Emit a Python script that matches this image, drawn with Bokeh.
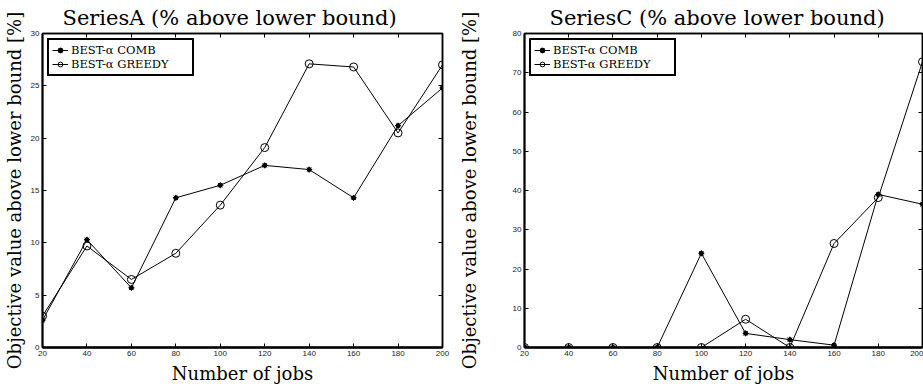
from bokeh.plotting import figure
from bokeh.layouts import row
from bokeh.models import LinearAxis, FixedTicker, Range1d, Legend, LegendItem
from bokeh.embed import file_html
from bokeh.resources import INLINE

jobs = [20, 40, 60, 80, 100, 120, 140, 160, 180, 200]
a_comb = [2.6, 10.3, 5.7, 14.3, 15.5, 17.4, 17.0, 14.3, 21.2, 24.8]
a_greedy = [3.0, 9.7, 6.5, 9.0, 13.6, 19.1, 27.1, 26.8, 20.5, 27.0]
c_comb = [0, 0, 0, 0, 24.0, 3.6, 2.0, 0.6, 39.0, 36.5]
c_greedy = [0, 0, 0, 0, 0, 7.2, 0, 26.5, 38.2, 72.8]
a_yticks = [0, 5, 10, 15, 20, 25, 30]
c_yticks = [0, 10, 20, 30, 40, 50, 60, 70, 80]
label_comb = "BEST-α COMB"
label_greedy = "BEST-α GREEDY"
title_a = "SeriesA (% above lower bound)"
title_c = "SeriesC (% above lower bound)"
xlabel = "Number of jobs"
ylabel = "Objective value above lower bound [%]"

SERIF = "DejaVu Serif"
SANS = "Liberation Sans"


def make(title, comb, greedy, yticks, width, bl, br, ylab_standoff, title_offset):
    p = figure(width=width, height=388,
               x_range=Range1d(20, 200), y_range=Range1d(yticks[0], yticks[-1]),
               output_backend="svg", toolbar_location=None,
               min_border_left=bl, min_border_right=br,
               min_border_top=32, min_border_bottom=41,
               x_axis_label=xlabel, y_axis_label=ylabel)
    p.xgrid.visible = False
    p.ygrid.visible = False
    p.outline_line_color = "black"
    p.outline_line_width = 1.5
    p.outline_line_alpha = 1.0

    p.title.text = title
    p.title.text_font = SERIF
    p.title.text_font_size = "21px"
    p.title.text_font_style = "normal"
    p.title.text_color = "black"
    p.title.align = "left"
    p.title.standoff = 7
    p.title.offset = title_offset

    for ax, ticks, lw in ((p.xaxis[0], jobs, 2.5), (p.yaxis[0], yticks, 2.0)):
        ax.ticker = FixedTicker(ticks=ticks)
        ax.axis_line_width = lw
        ax.axis_line_color = "black"
        ax.major_tick_in = 4
        ax.major_tick_out = 0
        ax.major_tick_line_color = "black"
        ax.minor_tick_line_color = None
        ax.major_label_text_font = SANS
        ax.major_label_text_font_size = "8px"
        ax.major_label_text_color = "#222222"
        ax.axis_label_text_font = SERIF
        ax.axis_label_text_font_size = "18px"
        ax.axis_label_text_font_style = "normal"
        ax.axis_label_text_color = "black"
    p.xaxis[0].major_label_standoff = 3
    p.xaxis[0].axis_label_standoff = 4
    p.yaxis[0].major_label_standoff = 3
    p.yaxis[0].axis_label_standoff = ylab_standoff

    for loc, ticks in (("above", jobs), ("right", yticks)):
        ax = LinearAxis(ticker=FixedTicker(ticks=ticks),
                        major_label_text_font_size="1px",
                        major_label_text_color=None,
                        major_label_standoff=0,
                        major_tick_in=4, major_tick_out=0,
                        major_tick_line_color="black",
                        minor_tick_line_color=None,
                        axis_line_width=1.5, axis_line_color="black")
        p.add_layout(ax, loc)

    l1 = p.line(jobs, comb, line_color="black", line_width=1)
    s1 = p.scatter(jobs, comb, marker="asterisk", size=6, line_color="black", line_width=1)
    s1b = p.scatter(jobs, comb, marker="circle", size=4, fill_color="black", line_color="black")
    l2 = p.line(jobs, greedy, line_color="black", line_width=1)
    s2 = p.scatter(jobs, greedy, marker="circle", size=8, fill_color=None, line_color="black", line_width=1)

    legend = Legend(items=[LegendItem(label=label_comb, renderers=[l1, s1, s1b]),
                           LegendItem(label=label_greedy, renderers=[l2, s2])],
                    location="top_left", margin=5, padding=3, spacing=0,
                    glyph_width=16, glyph_height=12, label_height=12,
                    label_standoff=3, label_width=118,
                    label_text_font=SERIF, label_text_font_size="11.5px",
                    label_text_color="black",
                    border_line_color="black", border_line_width=2,
                    border_line_alpha=1.0,
                    background_fill_color="white", background_fill_alpha=1.0)
    p.add_layout(legend)
    return p


p1 = make(title_a, a_comb, a_greedy, a_yticks, 455, 41, 13, 3, 20)
p2 = make(title_c, c_comb, c_greedy, c_yticks, 468, 67, 1, 30, 25)
layout = row(p1, p2)

open("out.html", "w").write(file_html(layout, INLINE))
